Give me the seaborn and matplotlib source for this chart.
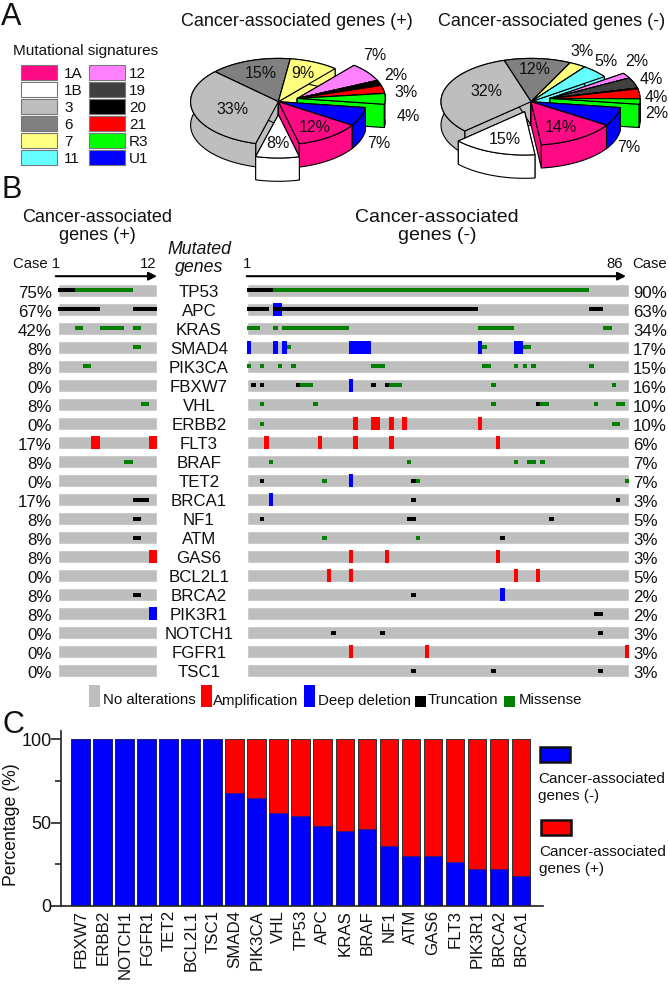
import matplotlib
matplotlib.use('Agg')
import matplotlib.pyplot as plt
import numpy as np
import seaborn as sns
from matplotlib.patches import Rectangle

# panel A: signature shares for each pie
signatures = ['1A', '1B', '3', '6', '7', '11', '12', '19', '20', '21', 'R3', 'U1']
pie_pos = [12, 8, 33, 15, 9, 0, 7, 0.3, 1.7, 3, 4, 7]
pie_neg = [14, 15, 32, 12, 3, 5, 2, 4, 0.3, 3.7, 2, 7]
sig_colors = ['#FF0A85', '#FFFFFF', '#BEBEBE', '#808080', '#FFFF80', '#66FFFF',
              '#FF80FF', '#404040', '#000000', '#FF0000', '#00FF00', '#0000FF']
exploded_pos = ['1B', '12', '19', '20', '21', 'R3']
exploded_neg = ['1B', '12', '19', '20', '21', 'R3']

# panel B: rows and mutated case ranges
genes = ['TP53', 'APC', 'KRAS', 'SMAD4', 'PIK3CA', 'FBXW7', 'VHL', 'ERBB2', 'FLT3', 'BRAF', 'TET2',
         'BRCA1', 'NF1', 'ATM', 'GAS6', 'BCL2L1', 'BRCA2', 'PIK3R1', 'NOTCH1', 'FGFR1', 'TSC1']
pct_pos = [75, 67, 42, 8, 8, 0, 8, 0, 17, 8, 0, 17, 8, 8, 8, 0, 8, 8, 0, 0, 0]
pct_neg = [90, 63, 34, 17, 15, 16, 10, 10, 6, 7, 7, 3, 5, 3, 3, 5, 2, 2, 3, 3, 3]

trunc_pos = {'TP53': [(1, 2)], 'APC': [(1, 5), (10, 12)], 'BRCA1': [(10, 11)], 'NF1': [(10, 10)],
             'ATM': [(10, 10)], 'BRCA2': [(10, 10)]}
miss_pos = {'TP53': [(3, 9)], 'KRAS': [(3, 3), (6, 8), (10, 10)], 'SMAD4': [(10, 10)],
            'PIK3CA': [(4, 4)], 'VHL': [(11, 11)], 'BRAF': [(9, 9)]}
amp_pos = {'FLT3': [(5, 5), (12, 12)], 'GAS6': [(12, 12)]}
del_pos = {'PIK3R1': [(12, 12)]}

trunc_neg = {'TP53': [(1, 6)], 'APC': [(1, 5), (7, 52), (78, 80)], 'FBXW7': [(2, 2), (4, 4), (12, 12), (29, 29), (32, 32)],
             'VHL': [(66, 66)], 'TET2': [(4, 4), (38, 38)], 'BRCA1': [(38, 38), (84, 84)],
             'NF1': [(4, 4), (37, 38), (69, 69)], 'ATM': [(58, 58)], 'BRCA2': [(38, 38)],
             'PIK3R1': [(79, 80)], 'NOTCH1': [(20, 20), (31, 31), (80, 80)], 'TSC1': [(38, 38), (56, 56), (80, 80)]}
miss_neg = {'TP53': [(7, 77)], 'KRAS': [(1, 3), (7, 7), (9, 23), (53, 60), (81, 82)],
            'SMAD4': [(10, 10), (54, 54), (63, 64)],
            'PIK3CA': [(1, 1), (4, 4), (8, 8), (11, 11), (29, 31), (54, 55), (61, 61), (63, 63), (65, 65), (78, 78)],
            'FBXW7': [(13, 15), (33, 35), (56, 56), (83, 83)],
            'VHL': [(4, 4), (16, 16), (56, 56), (67, 68), (79, 79), (84, 85)],
            'ERBB2': [(4, 4), (83, 84)], 'BRAF': [(6, 6), (37, 37), (61, 61), (64, 65), (67, 67)],
            'TET2': [(18, 18), (39, 39), (86, 86)], 'ATM': [(18, 18), (39, 39)]}
amp_neg = {'ERBB2': [(25, 25), (29, 30), (33, 33), (36, 36), (53, 53)],
           'FLT3': [(5, 5), (17, 17), (25, 25), (33, 33), (57, 57)],
           'GAS6': [(24, 24), (32, 32), (57, 57)], 'BCL2L1': [(19, 19), (24, 24), (61, 61), (66, 66)],
           'FGFR1': [(24, 24), (41, 41), (86, 86)]}
del_neg = {'APC': [(7, 8)], 'SMAD4': [(1, 1), (7, 7), (9, 9), (24, 28), (53, 53), (61, 62)],
           'FBXW7': [(24, 24)], 'TET2': [(24, 24)], 'BRCA1': [(6, 6)], 'BRCA2': [(58, 58)]}

# panel C
genes_c = ['FBXW7', 'ERBB2', 'NOTCH1', 'FGFR1', 'TET2', 'BCL2L1', 'TSC1', 'SMAD4', 'PIK3CA', 'VHL', 'TP53',
           'APC', 'KRAS', 'BRAF', 'NF1', 'ATM', 'GAS6', 'FLT3', 'PIK3R1', 'BRCA2', 'BRCA1']
total_c = [100] * 21
share_neg = [100, 100, 100, 100, 100, 100, 100, 68, 65, 56, 54, 48, 45, 46, 36, 30, 30, 26, 22, 22, 18]

sns.set_theme(style='white')
plt.rcParams['font.family'] = ['Liberation Sans', 'DejaVu Sans']

W, H = 668, 984
fig = plt.figure(figsize=(W / 100, H / 100), dpi=100)


def px_axes(x0, y0, x1, y1, **kw):
    return fig.add_axes([x0 / W, 1 - y1 / H, (x1 - x0) / W, (y1 - y0) / H], **kw)


canvas = fig.add_axes([0, 0, 1, 1], zorder=5)
canvas.set_xlim(0, W)
canvas.set_ylim(H, 0)
canvas.axis('off')
canvas.patch.set_alpha(0)


def txt(x, y, s, size=12, ha='center', va='center', **kw):
    canvas.text(x, y, s, fontsize=size, ha=ha, va=va, color='#111111', zorder=10, **kw)


def draw_pie(values, exploded, cx, cy, rx, ry, depth, start, off_1b, off_rest):
    # slices run clockwise from the start angle
    edges = start - np.cumsum([0] + values) * 3.6
    slices = []
    for i, name in enumerate(signatures):
        if values[i] == 0:
            continue
        slices.append((edges[i], edges[i + 1], sig_colors[i], name))
    slices.sort(key=lambda s: -np.sin(np.radians((s[0] + s[1]) / 2)))
    for a0, a1, col, name in slices:
        dx, dy = (0, 0)
        if name in exploded:
            dx, dy = off_1b if name == '1B' else off_rest
        th = np.radians(np.linspace(a0, a1, 60))
        ax0 = cx + dx
        ay0 = cy + dy
        xs = ax0 + rx * np.cos(th)
        ys = ay0 - ry * np.sin(th)
        # radial cut faces
        for k in [0, -1]:
            canvas.fill([ax0, xs[k], xs[k], ax0], [ay0, ys[k], ys[k] + depth, ay0 + depth],
                        facecolor=col, edgecolor='black', lw=0.8)
        # outer wall
        canvas.fill(np.r_[xs, xs[::-1]], np.r_[ys, ys[::-1] + depth],
                    facecolor=col, edgecolor='black', lw=0.8)
        # top surface
        canvas.fill(np.r_[ax0, xs], np.r_[ay0, ys], facecolor=col, edgecolor='black', lw=0.8)


# panel A
txt(1, 17, 'A', size=22, ha='left')
txt(296.5, 22, 'Cancer-associated genes (+)', size=13)
txt(552, 22, 'Cancer-associated genes (-)', size=13)
txt(86, 51, 'Mutational signatures', size=11)
for i, name in enumerate(signatures):
    col_x = 20.5 if i < 6 else 89
    y = 64.5 + 17.1 * (i % 6)
    canvas.add_patch(Rectangle((col_x, y), 36, 15.4, facecolor=sig_colors[i], edgecolor='#777777', lw=0.8))
    txt(64 if i < 6 else 129, y + 9, name, size=11, ha='left')

draw_pie(pie_pos, exploded_pos, 278.4, 101.7, 87.8, 43.3, 23.3, -33, (0, 13), (19, -3.3))
draw_pie(pie_neg, exploded_neg, 531, 101.7, 90, 43.3, 23.3, -33, (-6.4, 10), (19, -3.3))

labels_pos = [('33%', 233, 110), ('15%', 261, 74), ('9%', 303, 74), ('7%', 375, 55), ('2%', 396, 76),
              ('3%', 405.6, 92.7), ('4%', 408, 116.7), ('7%', 379, 143), ('12%', 315, 128), ('8%', 277.5, 144)]
labels_neg = [('32%', 486, 92), ('12%', 534.5, 70), ('3%', 582.5, 52), ('5%', 606, 61), ('2%', 637, 62),
              ('4%', 651, 79), ('4%', 656.5, 97), ('2%', 657, 114), ('7%', 629, 148), ('14%', 561, 127),
              ('15%', 504.5, 139)]
for s, x, y in labels_pos + labels_neg:
    txt(x, y, s, size=11.5)

# panel B
txt(1, 190, 'B', size=22, ha='left')
txt(97, 217, 'Cancer-associated', size=13)
txt(97, 236, 'genes (+)', size=13)
txt(437, 217, 'Cancer-associated', size=14)
txt(437, 236, 'genes (-)', size=14)
txt(199, 249, 'Mutated', size=12.8, style='italic')
txt(199, 267, 'genes', size=12.8, style='italic')
txt(13, 264, 'Case 1', size=10.7, ha='left')
txt(156, 264, '12', size=10.7, ha='right')
txt(247, 264, '1', size=10.7)
txt(623, 264, '86', size=10.7, ha='right')
txt(632, 264, 'Case', size=10.7, ha='left')
for x0, x1 in [(55.7, 157), (246.7, 626)]:
    canvas.annotate('', xy=(x1, 276.2), xytext=(x0, 276.2),
                    arrowprops=dict(arrowstyle='-|>', color='black', lw=1.5, shrinkA=0, shrinkB=0))

ROW_TOP, ROW_STEP = 290.3, 19.03


def draw_onco(x0, x1, n_cases, trunc, miss, amp, dele):
    ax = px_axes(x0, ROW_TOP - ROW_STEP / 2, x1, ROW_TOP + ROW_STEP * 20.5)
    sns.barplot(x=[n_cases] * len(genes), y=genes, orient='h', color='#BEBEBE', saturation=1,
                width=0.69, ax=ax)
    tall, thin = 0.69, 0.21
    for table, col, h in [(amp, '#FF0000', tall), (dele, '#0000FF', tall),
                          (miss, '#007F00', thin), (trunc, '#000000', thin)]:
        for gene, spans in table.items():
            row = genes.index(gene)
            for first, last in spans:
                ax.barh(row, last - first + 1, left=first - 1, height=h, color=col, linewidth=0)
    ax.set_xlim(0, n_cases)
    ax.set_ylim(20.5, -0.5)
    ax.axis('off')


draw_onco(58.3, 157.3, 12, trunc_pos, miss_pos, amp_pos, del_pos)
draw_onco(246.7, 629.3, 86, trunc_neg, miss_neg, amp_neg, del_neg)

for i, g in enumerate(genes):
    y = ROW_TOP + ROW_STEP * i
    txt(51.7, y + 3, f'{pct_pos[i]}%', size=12.2, ha='right')
    txt(199, y + 2, g, size=12.2)
    txt(633, y + 3, f'{pct_neg[i]}%', size=12.2, ha='left')

legend_b = [(89, 11, 685, '#BEBEBE', 'No alterations', 103), (201, 11, 685, '#FF0000', 'Amplification', 213),
            (304.3, 11, 685, '#0000FF', 'Deep deletion', 317.7), (415, 11, 696, '#000000', 'Truncation', 428),
            (503.7, 11, 695.7, '#007F00', 'Missense', 518.3)]
for x, w, y, col, s, tx in legend_b:
    canvas.add_patch(Rectangle((x, y), w, 706.7 - y, facecolor=col, edgecolor='none'))
    txt(tx, 700.5, s, size=10.8, ha='left')

# panel C
txt(3, 725, 'C', size=22, ha='left')
ax_c = px_axes(61.2, 730.7, 543, 905.7)
sns.barplot(x=genes_c, y=total_c, color='#FF0000', saturation=1, width=0.84,
            edgecolor='#333333', linewidth=0.7, ax=ax_c)
sns.barplot(x=genes_c, y=share_neg, color='#0000FF', saturation=1, width=0.84,
            edgecolor='#222266', linewidth=0.5, ax=ax_c)
ax_c.set_xlim(-0.886, 21.01)
ax_c.set_ylim(0, 105.2)
ax_c.set_yticks([0, 50, 100])
ax_c.set_yticks([25, 75], minor=True)
ax_c.patch.set_alpha(0)
ax_c.tick_params(axis='y', which='major', left=True, length=7, width=1.2, color='#222222',
                 labelsize=13, pad=0, labelcolor='#111111')
ax_c.tick_params(axis='y', which='minor', left=True, length=4, width=1.2, color='#222222')
ax_c.tick_params(axis='x', bottom=False, length=0, labelsize=12.2, labelrotation=90, pad=3, labelcolor='#111111')
ax_c.set_ylabel('')
ax_c.set_xlabel('')
sns.despine(ax=ax_c)
for side in ['left', 'bottom']:
    ax_c.spines[side].set_linewidth(1.2)
    ax_c.spines[side].set_color('#222222')
txt(12, 825, 'Percentage (%)', size=12.7, rotation=90)

canvas.add_patch(Rectangle((540, 747), 30, 15.3, facecolor='#0000FF', edgecolor='#111111', lw=1.8))
canvas.add_patch(Rectangle((540.5, 819.5), 30, 15.3, facecolor='#FF0000', edgecolor='#111111', lw=1.8))
txt(538, 779, 'Cancer-associated', size=11, ha='left')
txt(538, 796, 'genes (-)', size=11, ha='left')
txt(539, 851.7, 'Cancer-associated', size=11, ha='left')
txt(539, 869, 'genes (+)', size=11, ha='left')

fig.savefig('out.png', dpi=100)
